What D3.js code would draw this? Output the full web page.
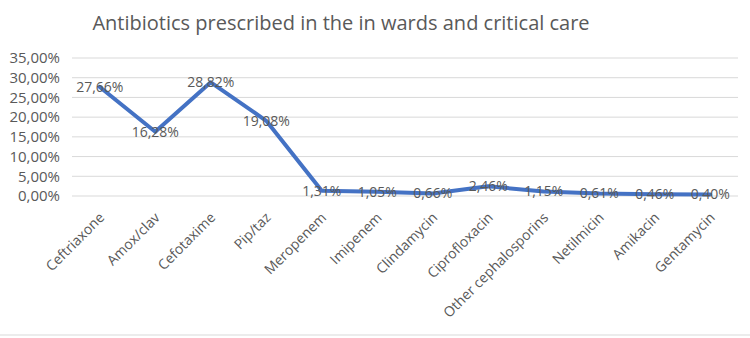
<!DOCTYPE html>
<html>
<head>
<meta charset="utf-8">
<script src="https://cdn.jsdelivr.net/npm/d3@7"></script>
<style>
  body { margin: 0; background: #fff; }
  svg text { font-family: "Open Sans", "Liberation Sans", sans-serif; fill: #595959; }
</style>
</head>
<body>
<div id="chart"></div>
<script>
// chart data
const drugs = ["Ceftriaxone", "Amox/clav", "Cefotaxime", "Pip/taz", "Meropenem", "Imipenem",
  "Clindamycin", "Ciprofloxacin", "Other cephalosporins", "Netilmicin", "Amikacin", "Gentamycin"]
const shares = [27.66, 16.28, 28.82, 19.08, 1.31, 1.05, 0.66, 2.46, 1.15, 0.61, 0.46, 0.40]
const yTicks = [0, 5, 10, 15, 20, 25, 30, 35]

const W = 750, H = 338
const MARGIN = { TOP: 58, BOTTOM: 142, LEFT: 72, RIGHT: 12 }
const WIDTH = W - MARGIN.LEFT - MARGIN.RIGHT
const HEIGHT = H - MARGIN.TOP - MARGIN.BOTTOM

const fmt = v => v.toFixed(2).replace(".", ",") + "%"

const svg = d3.select("#chart").append("svg")
  .attr("width", W)
  .attr("height", H)

// title
svg.append("text")
  .attr("x", 341)
  .attr("y", 30)
  .attr("text-anchor", "middle")
  .style("font-size", "20px")
  .text("Antibiotics prescribed in the in wards and critical care")

// bottom border of the chart area
svg.append("line")
  .attr("x1", 0).attr("x2", W)
  .attr("y1", H - 3).attr("y2", H - 3)
  .attr("stroke", "#d9d9d9")
  .attr("stroke-width", 1)

const g = svg.append("g")
  .attr("transform", "translate(" + MARGIN.LEFT + "," + MARGIN.TOP + ")")

const x = d3.scaleBand()
  .domain(drugs)
  .range([0, WIDTH])

const y = d3.scaleLinear()
  .domain([0, 35])
  .range([HEIGHT, 0])

// gridlines
g.append("g")
  .selectAll("line")
  .data(yTicks)
  .join("line")
  .attr("x1", 0).attr("x2", WIDTH)
  .attr("y1", d => y(d)).attr("y2", d => y(d))
  .attr("stroke", "#d9d9d9")
  .attr("stroke-width", 1)

// y axis labels
const yAxis = g.append("g")
  .call(d3.axisLeft(y).tickValues(yTicks).tickFormat(fmt).tickSize(0).tickPadding(12))
yAxis.select(".domain").remove()
yAxis.selectAll("text")
  .style("font-size", "15px")
  .style("font-family", "\"Open Sans\", sans-serif")
  .attr("fill", "#595959")

// x axis labels rotated
const xAxis = g.append("g")
  .attr("transform", "translate(0," + HEIGHT + ")")
  .call(d3.axisBottom(x).tickSize(0).tickPadding(0))
xAxis.select(".domain").remove()
xAxis.selectAll("text")
  .style("font-size", "14px")
  .style("font-family", "\"Open Sans\", sans-serif")
  .attr("fill", "#595959")
  .attr("text-anchor", "end")
  .attr("dy", "0.35em")
  .attr("transform", "translate(2,19) rotate(-45)")

const cx = d => x(d) + x.bandwidth() / 2

// line
const line = d3.line()
  .x((d, i) => cx(drugs[i]))
  .y(d => y(d))

g.append("path")
  .datum(shares)
  .attr("d", line)
  .attr("fill", "none")
  .attr("stroke", "#4472c4")
  .attr("stroke-width", 4)
  .attr("stroke-linejoin", "round")
  .attr("stroke-linecap", "round")

// data labels centered on points
g.append("g")
  .selectAll("text")
  .data(shares)
  .join("text")
  .attr("x", (d, i) => cx(drugs[i]))
  .attr("y", d => y(d))
  .attr("dy", "0.35em")
  .attr("text-anchor", "middle")
  .style("font-size", "14px")
  .text(d => fmt(d))
</script>
</body>
</html>
